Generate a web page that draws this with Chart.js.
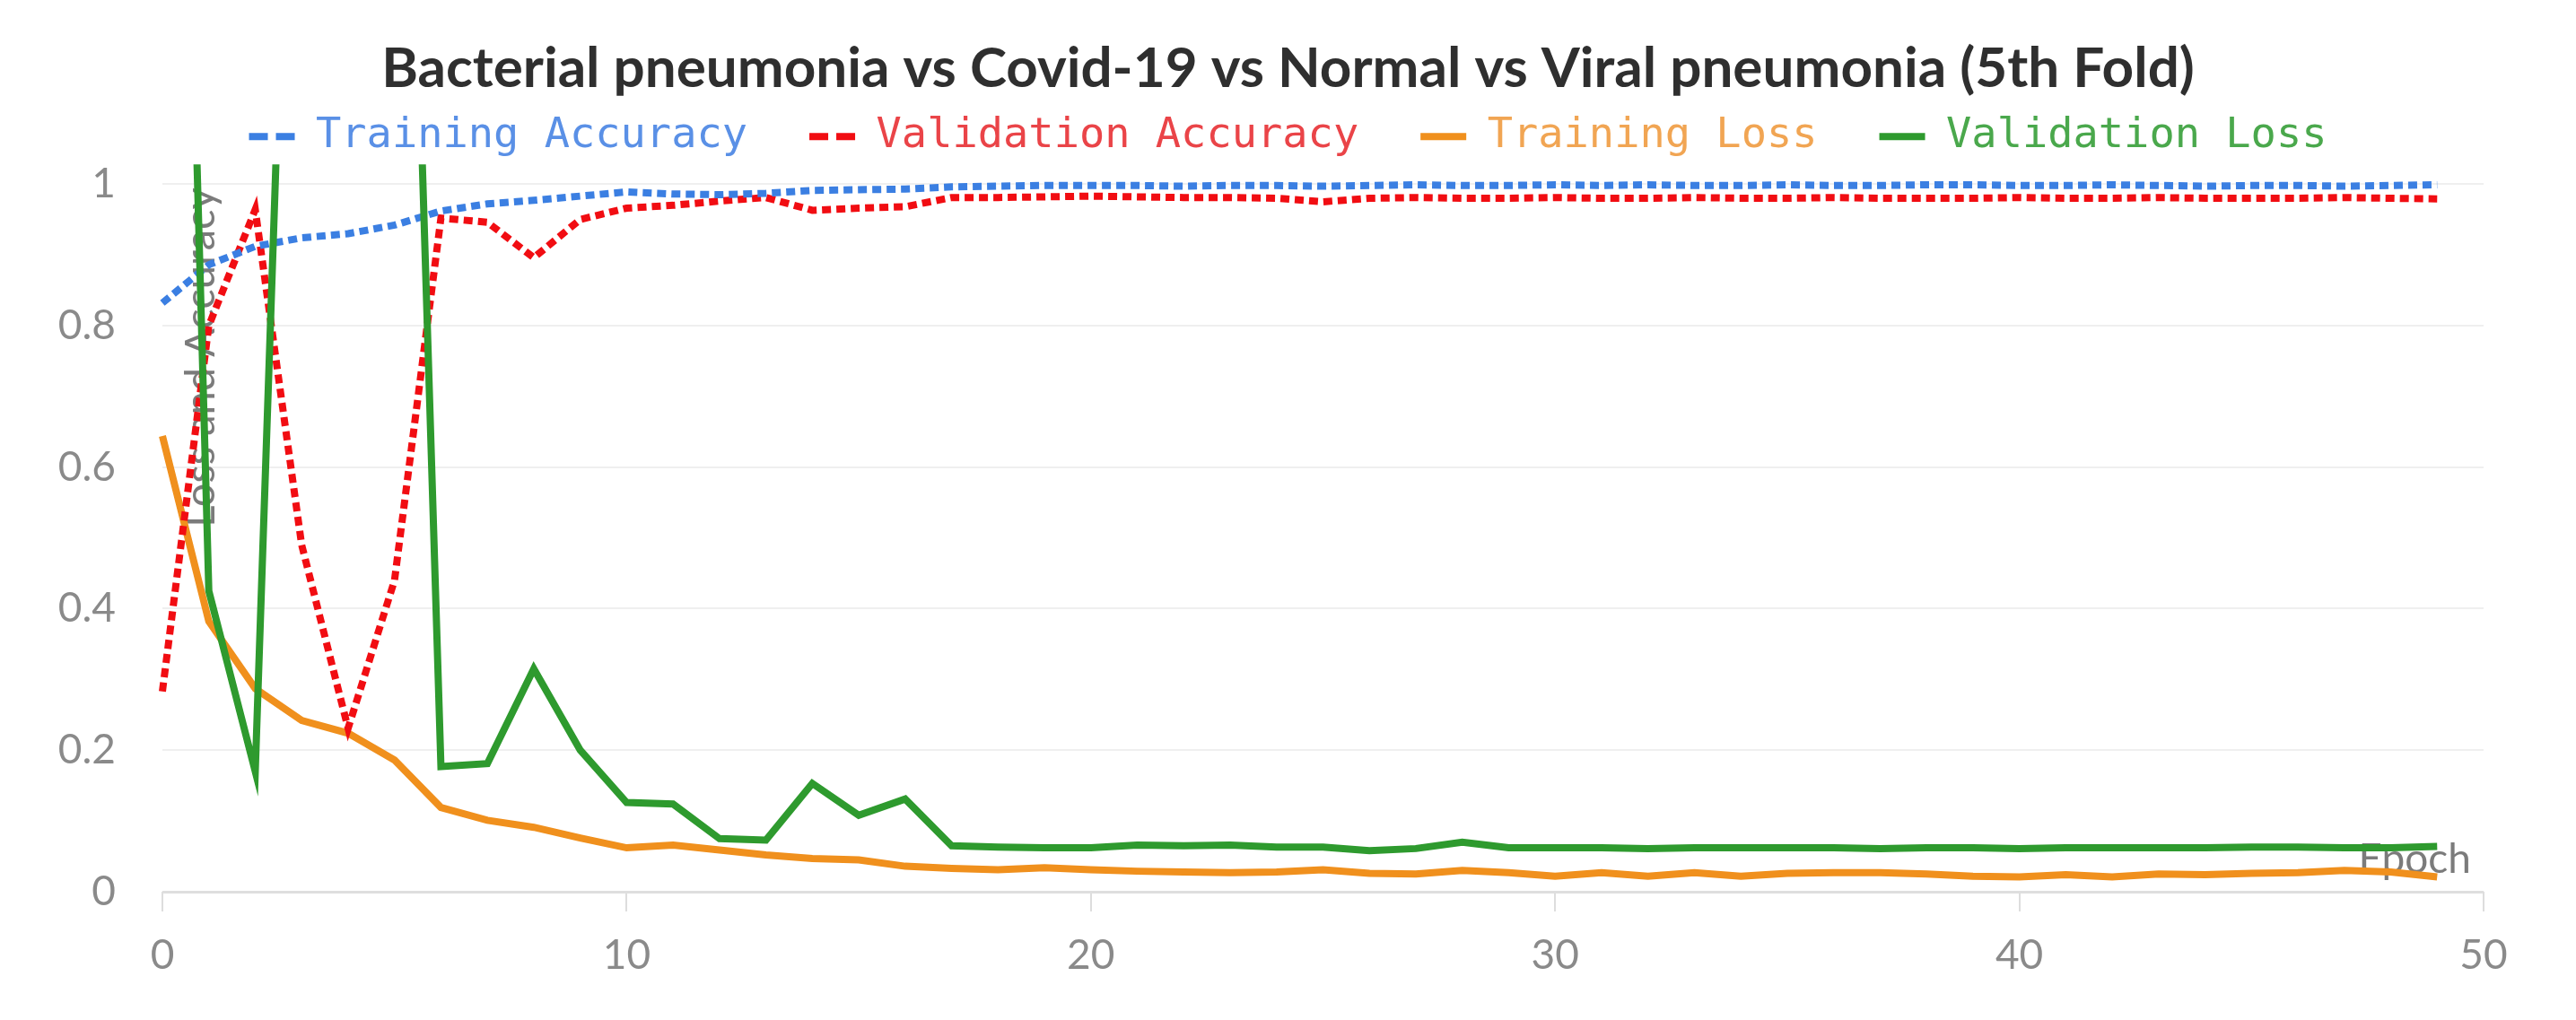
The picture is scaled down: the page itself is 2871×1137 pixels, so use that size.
<!DOCTYPE html>
<html>
<head>
<meta charset="utf-8">
<title>Bacterial pneumonia vs Covid-19 vs Normal vs Viral pneumonia (5th Fold)</title>
<script src="https://cdn.jsdelivr.net/npm/chart.js@4.4.1/dist/chart.umd.min.js"></script>
<style>
  html, body { margin: 0; padding: 0; background: #ffffff; }
  #chart { display: block; }
</style>
</head>
<body>
<canvas id="chart" width="2871" height="1137"></canvas>
<script>
const chartTitle = 'Bacterial pneumonia vs Covid-19 vs Normal vs Viral pneumonia (5th Fold)';
const xTitle = 'Epoch';
const yTitle = 'Loss and Accuracy';

const epochs = [0, 1, 2, 3, 4, 5, 6, 7, 8, 9, 10, 11, 12, 13, 14, 15, 16, 17, 18, 19, 20, 21, 22, 23, 24,
  25, 26, 27, 28, 29, 30, 31, 32, 33, 34, 35, 36, 37, 38, 39, 40, 41, 42, 43, 44, 45, 46, 47, 48, 49];

const trainAcc = [0.832, 0.886, 0.912, 0.924, 0.930, 0.942, 0.962, 0.972, 0.977, 0.983,
  0.989, 0.986, 0.985, 0.987, 0.991, 0.992, 0.993, 0.996, 0.997, 0.998,
  0.998, 0.998, 0.997, 0.998, 0.998, 0.997, 0.998, 0.999, 0.998, 0.998,
  0.999, 0.998, 0.999, 0.998, 0.998, 0.999, 0.998, 0.998, 0.999, 0.999,
  0.998, 0.998, 0.999, 0.998, 0.997, 0.998, 0.998, 0.997, 0.998, 0.999];

const valAcc = [0.283, 0.800, 0.964, 0.490, 0.231, 0.440, 0.952, 0.946, 0.896, 0.950,
  0.966, 0.970, 0.976, 0.981, 0.963, 0.966, 0.968, 0.981, 0.981, 0.982,
  0.983, 0.982, 0.981, 0.981, 0.980, 0.975, 0.980, 0.981, 0.980, 0.980,
  0.981, 0.980, 0.980, 0.981, 0.980, 0.980, 0.981, 0.980, 0.980, 0.980,
  0.981, 0.980, 0.980, 0.981, 0.980, 0.980, 0.980, 0.981, 0.980, 0.979];

const trainLoss = [0.644, 0.382, 0.287, 0.242, 0.224, 0.186, 0.119, 0.101, 0.091, 0.076,
  0.062, 0.066, 0.059, 0.052, 0.047, 0.045, 0.036, 0.033, 0.031, 0.034,
  0.031, 0.029, 0.028, 0.027, 0.028, 0.031, 0.026, 0.025, 0.030, 0.027,
  0.022, 0.027, 0.022, 0.027, 0.022, 0.026, 0.027, 0.027, 0.025, 0.022,
  0.021, 0.024, 0.021, 0.025, 0.024, 0.026, 0.027, 0.030, 0.028, 0.021];

const valLoss = [2.8, 0.425, 0.170, 2.1, 3.0, 2.3, 0.177, 0.181, 0.315, 0.200,
  0.126, 0.124, 0.075, 0.073, 0.153, 0.108, 0.131, 0.065, 0.063, 0.062,
  0.062, 0.066, 0.065, 0.066, 0.063, 0.063, 0.058, 0.061, 0.070, 0.062,
  0.062, 0.062, 0.061, 0.062, 0.062, 0.062, 0.062, 0.061, 0.062, 0.062,
  0.061, 0.062, 0.062, 0.062, 0.062, 0.063, 0.063, 0.062, 0.062, 0.064];

const yTicks = [0, 0.2, 0.4, 0.6, 0.8, 1];
const xTicks = [0, 10, 20, 30, 40, 50];

const colors = {
  blue: '#3b7fe2',
  red: '#f10d12',
  orange: '#f0901d',
  green: '#2e9a2e',
  blueText: '#5a90e6',
  redText: '#ea4448',
  orangeText: '#f1a553',
  greenText: '#4aa84c',
  tick: '#8a8a8a',
  grid: '#efefef',
  zero: '#dedede',
  title: '#2f2f2f'
};

function points(values) {
  return epochs.map((e, i) => ({ x: e, y: values[i] }));
}

function lineSet(label, values, color, textColor, dashed, order) {
  return {
    label,
    data: points(values),
    borderColor: color,
    backgroundColor: color,
    borderWidth: 8,
    borderDash: dashed ? [10, 6] : [],
    legendDash: dashed ? [21, 9] : [],
    textColor,
    pointRadius: 0,
    tension: 0,
    fill: false,
    order,
    clip: { left: 4, top: 22, right: 4, bottom: 4 }
  };
}

// axis titles sit inside the plot, under the lines
const axisTitles = {
  id: 'axisTitles',
  beforeDatasetsDraw(chart) {
    const { ctx, chartArea, scales } = chart;
    ctx.save();
    ctx.fillStyle = 'rgba(100, 100, 100, 0.85)';
    ctx.textBaseline = 'middle';
    ctx.font = '46px Lato';
    ctx.textAlign = 'right';
    ctx.fillText(xTitle, chartArea.right - 14, chartArea.bottom - 36);
    ctx.font = '47px Lato';
    ctx.translate(chartArea.left + 43, scales.y.getPixelForValue(0.755));
    ctx.rotate(-Math.PI / 2);
    ctx.textAlign = 'center';
    ctx.fillText(yTitle, 0, 0);
    ctx.restore();
  }
};

function drawChart() {
  new Chart(document.getElementById('chart'), {
    type: 'line',
    data: {
      datasets: [
        lineSet('Training Accuracy', trainAcc, colors.blue, colors.blueText, true, 1),
        lineSet('Validation Accuracy', valAcc, colors.red, colors.redText, true, 2),
        lineSet('Training Loss', trainLoss, colors.orange, colors.orangeText, false, 3),
        lineSet('Validation Loss', valLoss, colors.green, colors.greenText, false, 0)
      ]
    },
    plugins: [axisTitles],
    options: {
      responsive: false,
      devicePixelRatio: 1,
      animation: false,
      events: [],
      layout: { padding: 0 },
      plugins: {
        title: {
          display: true,
          text: chartTitle,
          color: colors.title,
          font: { family: 'Lato', size: 62, weight: 'bold', lineHeight: 1.2 },
          padding: { top: 40, bottom: -54.7 }
        },
        legend: {
          display: true,
          position: 'top',
          labels: {
            usePointStyle: true,
            pointStyleWidth: 51,
            padding: 69,
            font: { family: 'DejaVu Sans Mono', size: 47 },
            generateLabels: (chart) => chart.data.datasets.map((ds, i) => ({
              text: ds.label,
              fontColor: ds.textColor,
              strokeStyle: ds.borderColor,
              fillStyle: ds.borderColor,
              lineWidth: 8,
              lineDash: ds.legendDash,
              pointStyle: 'line',
              hidden: false,
              datasetIndex: i
            }))
          }
        },
        subtitle: {
          display: true,
          text: '',
          weight: 500,
          font: { size: 1, lineHeight: 1 },
          padding: { top: 18.5, bottom: 0 }
        },
        tooltip: { enabled: false }
      },
      scales: {
        x: {
          type: 'linear',
          min: 0,
          max: 50,
          afterBuildTicks: (scale) => { scale.ticks = xTicks.map((v) => ({ value: v })); },
          afterFit: (scale) => { scale.height = 143; },
          border: { display: false },
          grid: {
            drawOnChartArea: false,
            drawTicks: true,
            tickLength: 22,
            color: '#dddddd',
            lineWidth: 2
          },
          ticks: {
            color: colors.tick,
            font: { family: 'Lato', size: 46 },
            padding: 22,
            maxRotation: 0,
            callback: (v) => String(v)
          }
        },
        y: {
          type: 'linear',
          min: 0,
          max: 1,
          afterBuildTicks: (scale) => { scale.ticks = yTicks.map((v) => ({ value: v })); },
          afterFit: (scale) => { scale.width = 181; },
          border: { display: false },
          grid: {
            drawTicks: false,
            color: (ctx) => (ctx.tick && ctx.tick.value === 0 ? colors.zero : colors.grid),
            lineWidth: (ctx) => (ctx.tick && ctx.tick.value === 0 ? 3 : 2)
          },
          ticks: {
            color: colors.tick,
            font: { family: 'Lato', size: 46 },
            padding: 52,
            callback: (v) => String(v)
          }
        },
        // empty right-hand margin so title and legend centre on the full canvas
        yRight: {
          type: 'linear',
          position: 'right',
          min: 0,
          max: 1,
          afterFit: (scale) => { scale.width = 103; },
          border: { display: false },
          grid: { display: false },
          ticks: { display: false }
        }
      }
    }
  });
}

Promise.all([
  document.fonts.load('bold 62px Lato'),
  document.fonts.load('46px Lato'),
  document.fonts.load('47px "DejaVu Sans Mono"')
]).then(drawChart, drawChart);
</script>
</body>
</html>
